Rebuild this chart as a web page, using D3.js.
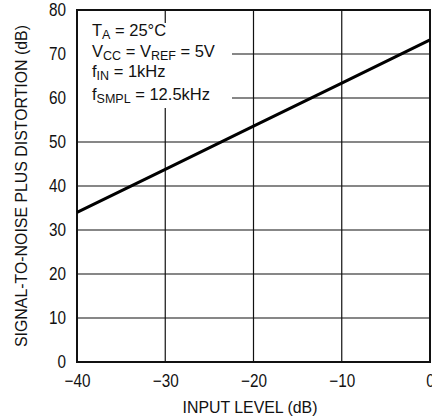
<!DOCTYPE html>
<html>
<head>
<meta charset="utf-8">
<script src="https://cdn.jsdelivr.net/npm/d3@7"></script>
<style>
  body { margin: 0; background: #fff; }
  svg text { font-family: "Liberation Sans Narrow", "Arial Narrow", "Liberation Sans", Arial, sans-serif; fill: #111; }
</style>
</head>
<body>
<div id="chart"></div>
<script>
// input level (dB) vs SINAD (dB)
const inputLevel = [-40, -30, -20, -10, 0];
const sinad = [34, 43.8, 53.6, 63.4, 73.2];
const xTicks = [-40, -30, -20, -10, 0];
const yTicks = [0, 10, 20, 30, 40, 50, 60, 70, 80];

const config = {
  width: 432,
  height: 420,
  margin: { top: 10, right: 2, bottom: 58, left: 77 },
};

const width = config.width - config.margin.left - config.margin.right;
const height = config.height - config.margin.top - config.margin.bottom;

const svg = d3.select("#chart")
  .append("svg")
  .attr("width", config.width)
  .attr("height", config.height);

const g = svg.append("g")
  .attr("transform", `translate(${config.margin.left},${config.margin.top})`);

const x = d3.scaleLinear().domain([-40, 0]).range([0, width]);
const y = d3.scaleLinear().domain([0, 80]).range([height, 0]);

// grid
g.append("g")
  .selectAll("line")
  .data(xTicks)
  .join("line")
  .attr("x1", d => x(d)).attr("x2", d => x(d))
  .attr("y1", 0).attr("y2", height)
  .attr("stroke", "#111").attr("stroke-width", 1.2);

g.append("g")
  .selectAll("line")
  .data(yTicks)
  .join("line")
  .attr("x1", 0).attr("x2", width)
  .attr("y1", d => y(d)).attr("y2", d => y(d))
  .attr("stroke", "#111").attr("stroke-width", 1.2);

// annotation box covers the grid
g.append("rect")
  .attr("x", 1).attr("y", 13)
  .attr("width", 154).attr("height", 85)
  .attr("fill", "#fff");

function noteLine(yPos, parts) {
  const t = g.append("text").attr("x", 15).attr("y", yPos).attr("font-size", 16.5);
  parts.forEach(p => {
    const s = t.append("tspan").text(p[0]);
    if (p[1]) s.attr("font-size", 12.5).attr("dy", 3);
    else if (p[2]) s.attr("dy", -3);
  });
}
noteLine(26, [["T"], ["A", true], [" = 25°C", false, true]]);
noteLine(47, [["V"], ["CC", true], [" = V", false, true], ["REF", true], [" = 5V", false, true]]);
noteLine(67, [["f"], ["IN", true], [" = 1kHz", false, true]]);
noteLine(90, [["f"], ["SMPL", true], [" = 12.5kHz", false, true]]);

// frame
g.append("rect")
  .attr("width", width).attr("height", height)
  .attr("fill", "none").attr("stroke", "#111").attr("stroke-width", 2);

// curve
g.append("path")
  .datum(inputLevel.map((d, i) => [d, sinad[i]]))
  .attr("fill", "none")
  .attr("stroke", "#000")
  .attr("stroke-width", 3)
  .attr("d", d3.line().x(d => x(d[0])).y(d => y(d[1])));

// axes (labels squeezed a bit to look condensed)
const xAxis = d3.axisBottom(x).tickValues(xTicks).tickSize(0).tickPadding(12)
  .tickFormat(d => d === 0 ? "0" : "\u2212" + Math.abs(d));
g.append("g")
  .attr("transform", `translate(0,${height})`)
  .call(xAxis)
  .call(a => a.select(".domain").remove())
  .selectAll("text")
  .attr("font-size", 18).attr("fill", "#111")
  .attr("transform", "scale(0.85,1)");

const yAxis = d3.axisLeft(y).tickValues(yTicks).tickSize(0).tickPadding(13);
g.append("g")
  .call(yAxis)
  .call(a => a.select(".domain").remove())
  .selectAll("text")
  .attr("font-size", 18).attr("fill", "#111")
  .attr("transform", "scale(0.85,1)");

svg.append("text")
  .attr("x", 250)
  .attr("y", 413)
  .attr("text-anchor", "middle")
  .attr("font-size", 17)
  .attr("textLength", 135)
  .attr("lengthAdjust", "spacingAndGlyphs")
  .text("INPUT LEVEL (dB)");

svg.append("text")
  .attr("transform", "translate(27,186) rotate(-90)")
  .attr("text-anchor", "middle")
  .attr("font-size", 17)
  .attr("textLength", 322)
  .attr("lengthAdjust", "spacingAndGlyphs")
  .text("SIGNAL-TO-NOISE PLUS DISTORTION (dB)");
</script>
</body>
</html>
